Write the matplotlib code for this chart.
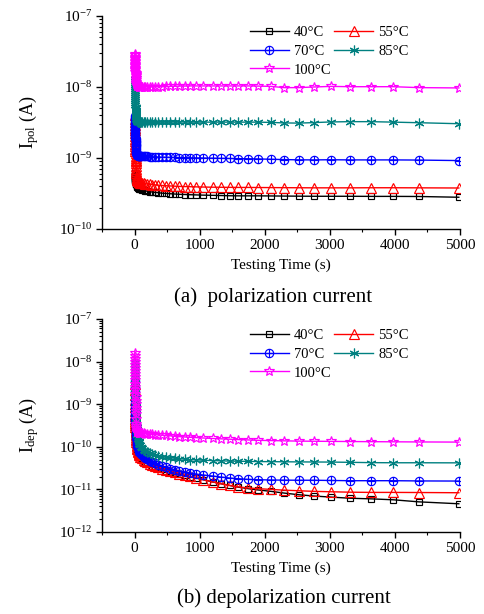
import numpy as np
import matplotlib
matplotlib.use("Agg")
import matplotlib.pyplot as plt
from matplotlib.path import Path
from matplotlib.ticker import MultipleLocator, LogLocator, LogFormatterMathtext, NullFormatter

plt.rcParams['font.family'] = ['Liberation Serif', 'DejaVu Serif']
plt.rcParams['mathtext.fontset'] = 'custom'
plt.rcParams['mathtext.rm'] = 'Liberation Serif'
plt.rcParams['mathtext.it'] = 'Liberation Serif:italic'

# ---- data -------------------------------------------------------------
time_s = np.array([1, 2, 3, 4, 5, 6, 7, 8, 9, 10,
                   11, 12, 13, 14, 15, 16, 17, 18, 19, 20,
                   22, 24, 26, 28, 31, 34, 37, 41, 45, 50,
                   55, 61, 68, 76, 85, 100, 118, 140, 165, 195,
                   230, 270, 315, 365, 420, 480, 545, 615, 690, 770,
                   855, 950, 1050, 1198, 1326, 1459, 1592, 1746, 1900, 2094,
                   2299, 2519, 2750, 3016, 3313, 3630, 3978, 4368, 4982])

temps = ['40°C', '55°C', '70°C', '85°C', '100°C']

# polarization current (A)
pol_40 = np.array([6.2, 6.0, 5.82, 5.66, 5.52, 5.4, 5.29, 5.19, 5.1, 5.02,
                   4.95, 4.88, 4.82, 4.76, 4.7, 4.65, 4.6, 4.56, 4.52, 4.48,
                   4.41, 4.35, 4.29, 4.24, 4.17, 4.11, 4.06, 4.0, 3.95, 3.89,
                   3.84, 3.79, 3.74, 3.69, 3.65, 3.62, 3.56, 3.5, 3.45, 3.4,
                   3.36, 3.32, 3.28, 3.24, 3.2, 3.17, 3.14, 3.11, 3.08, 3.06,
                   3.04, 3.02, 3.0, 2.98, 2.96, 2.94, 2.93, 2.93, 2.93, 2.92,
                   2.91, 2.9, 2.89, 2.89, 2.89, 2.88, 2.88, 2.87, 2.8]) * 1e-10
pol_55 = np.array([40, 36, 32.5, 29.5, 26.8, 24.4, 22.2, 20.3, 18.6, 17.1,
                   15.8, 14.6, 13.5, 12.5, 11.6, 10.8, 10.1, 9.5, 8.95, 8.45,
                   7.65, 7.0, 6.5, 6.1, 5.7, 5.4, 5.2, 5.03, 4.9, 4.8,
                   4.72, 4.65, 4.6, 4.55, 4.51, 4.47, 4.42, 4.38, 4.34, 4.3,
                   4.26, 4.22, 4.18, 4.14, 4.1, 4.07, 4.04, 4.01, 3.98, 3.96,
                   3.94, 3.92, 3.9, 3.88, 3.87, 3.86, 3.85, 3.85, 3.84, 3.83,
                   3.82, 3.81, 3.8, 3.8, 3.8, 3.81, 3.81, 3.8, 3.78]) * 1e-10
pol_70 = np.array([3.9, 3.7, 3.5, 3.3, 3.12, 2.95, 2.79, 2.64, 2.5, 2.37,
                   2.25, 2.13, 2.02, 1.92, 1.83, 1.74, 1.66, 1.59, 1.52, 1.46,
                   1.37, 1.29, 1.23, 1.19, 1.15, 1.12, 1.105, 1.095, 1.09, 1.085,
                   1.082, 1.079, 1.076, 1.073, 1.071, 1.07, 1.065, 1.06, 1.055, 1.05,
                   1.045, 1.04, 1.035, 1.03, 1.027, 1.024, 1.02, 1.017, 1.014, 1.01,
                   1.006, 1.003, 1.0, 0.995, 0.99, 0.985, 0.98, 0.975, 0.97, 0.96,
                   0.95, 0.942, 0.94, 0.945, 0.94, 0.94, 0.94, 0.935, 0.92]) * 1e-9
pol_85 = np.array([13, 12.2, 11.4, 10.7, 10.0, 9.4, 8.8, 8.2, 7.7, 7.2,
                   6.75, 6.35, 5.95, 5.6, 5.3, 5.0, 4.75, 4.52, 4.32, 4.15,
                   3.9, 3.72, 3.6, 3.5, 3.42, 3.36, 3.32, 3.29, 3.27, 3.25,
                   3.24, 3.23, 3.22, 3.22, 3.21, 3.21, 3.2, 3.2, 3.2, 3.2,
                   3.2, 3.2, 3.2, 3.2, 3.2, 3.2, 3.2, 3.21, 3.21, 3.21,
                   3.2, 3.2, 3.2, 3.2, 3.2, 3.2, 3.2, 3.2, 3.2, 3.17,
                   3.12, 3.1, 3.15, 3.22, 3.25, 3.25, 3.2, 3.14, 3.04]) * 1e-9
pol_100 = np.array([2.9, 2.78, 2.66, 2.55, 2.44, 2.34, 2.24, 2.14, 2.05, 1.96,
                    1.88, 1.8, 1.72, 1.65, 1.58, 1.52, 1.46, 1.41, 1.36, 1.32,
                    1.25, 1.19, 1.15, 1.12, 1.09, 1.07, 1.055, 1.045, 1.035, 1.03,
                    1.025, 1.02, 1.015, 1.012, 1.01, 1.01, 1.01, 1.01, 1.01, 1.01,
                    1.01, 1.01, 1.01, 1.01, 1.015, 1.02, 1.02, 1.025, 1.03, 1.03,
                    1.035, 1.035, 1.035, 1.035, 1.035, 1.035, 1.035, 1.035, 1.03, 1.02,
                    0.98, 0.98, 1.0, 1.02, 1.01, 1.01, 1.01, 0.98, 0.97]) * 1e-8

# depolarization current (A)
dep_40 = np.array([320, 225, 168, 131, 105, 86, 72, 61, 52.5, 46,
                   40.8, 36.5, 32.9, 29.9, 27.3, 25.1, 23.2, 21.6, 20.2, 19.0,
                   17.0, 15.4, 14.1, 13.0, 11.8, 10.8, 10.0, 9.2, 8.6, 7.95,
                   7.45, 6.95, 6.5, 6.1, 5.8, 5.55, 5.15, 4.8, 4.45, 4.15,
                   3.87, 3.6, 3.37, 3.15, 2.95, 2.77, 2.6, 2.44, 2.28, 2.12,
                   1.98, 1.84, 1.7, 1.5, 1.36, 1.24, 1.13, 1.04, 0.97, 0.9,
                   0.82, 0.75, 0.7, 0.66, 0.62, 0.6, 0.57, 0.51, 0.46]) * 1e-11
dep_55 = np.array([300, 215, 162, 127, 102, 84, 70, 60, 52, 45.5,
                   40.5, 36.3, 32.8, 29.8, 27.3, 25.2, 23.4, 21.8, 20.4, 19.2,
                   17.2, 15.6, 14.3, 13.2, 12.0, 11.0, 10.2, 9.4, 8.8, 8.1,
                   7.6, 7.1, 6.65, 6.25, 5.9, 5.75, 5.35, 5.0, 4.65, 4.32,
                   4.02, 3.74, 3.5, 3.27, 3.06, 2.87, 2.69, 2.52, 2.35, 2.18,
                   2.02, 1.86, 1.7, 1.5, 1.36, 1.24, 1.15, 1.08, 1.04, 1.0,
                   0.96, 0.93, 0.9, 0.88, 0.86, 0.85, 0.85, 0.845, 0.835]) * 1e-11
dep_70 = np.array([350, 260, 200, 158, 128, 106, 89, 76, 66, 58,
                   51.5, 46, 41.5, 37.8, 34.6, 31.9, 29.6, 27.6, 25.8, 24.2,
                   21.6, 19.5, 17.8, 16.4, 14.8, 13.5, 12.5, 11.4, 10.6, 9.8,
                   9.2, 8.6, 8.0, 7.5, 7.1, 6.7, 6.25, 5.85, 5.45, 5.05,
                   4.7, 4.38, 4.08, 3.8, 3.54, 3.3, 3.08, 2.88, 2.7, 2.54,
                   2.4, 2.28, 2.18, 2.06, 1.95, 1.85, 1.78, 1.72, 1.69, 1.66,
                   1.65, 1.64, 1.64, 1.62, 1.6, 1.6, 1.6, 1.58, 1.57]) * 1e-11
dep_85 = np.array([1000, 850, 720, 610, 515, 435, 368, 312, 265, 226,
                   194, 167, 145, 127, 112, 99, 88, 79, 71, 64,
                   53, 45, 39, 34.5, 29.5, 26, 23.2, 20.5, 18.5, 16.6,
                   15.2, 13.9, 12.7, 11.7, 10.8, 10, 9.2, 8.5, 7.9, 7.4,
                   7.0, 6.6, 6.3, 6.05, 5.85, 5.7, 5.55, 5.4, 5.25, 5.12,
                   5.0, 4.92, 4.85, 4.75, 4.68, 4.62, 4.58, 4.54, 4.5, 4.48,
                   4.45, 4.42, 4.4, 4.38, 4.32, 4.25, 4.22, 4.22, 4.2]) * 1e-11
dep_100 = np.array([1600, 1380, 1180, 1000, 850, 720, 610, 515, 435, 365,
                    305, 255, 212, 176, 146, 121, 100, 83, 69, 58,
                    44, 35, 30, 27, 25, 23.8, 23, 22.5, 22.2, 21.9,
                    21.7, 21.5, 21.4, 21.3, 21.1, 21, 20.8, 20.6, 20.4, 20.2,
                    20, 19.7, 19.4, 19.1, 18.8, 18.5, 18.1, 17.7, 17.3, 17,
                    16.7, 16.4, 16.1, 15.7, 15.4, 15.1, 14.8, 14.5, 14.2, 14,
                    13.8, 13.6, 13.5, 13.4, 13.3, 13.2, 13.1, 13, 12.9]) * 1e-11

# ---- styling ----------------------------------------------------------
# circle with a cross inside (⊕)
_circle = Path.unit_circle()
_cross = Path([(-1, 0), (1, 0), (0, -1), (0, 1)],
              [Path.MOVETO, Path.LINETO, Path.MOVETO, Path.LINETO])
oplus = Path.make_compound_path(_circle, _cross)

styles = [
    dict(color='black', marker='s', ms=5),
    dict(color='#ff0000', marker='^', ms=6.5),
    dict(color='#0000ff', marker=oplus, ms=6),
    dict(color='#008080', marker=(6, 2, 0), ms=7),
    dict(color='#ff00ff', marker='*', ms=7.5),
]

fig = plt.figure(figsize=(4.85, 6.14), dpi=100)
ax_top = fig.add_axes([102 / 485, 1 - 229 / 614, 358 / 485, 213 / 614])
ax_bot = fig.add_axes([102 / 485, 1 - 532 / 614, 358 / 485, 213 / 614])


def draw_panel(ax, series, ylim, ylabel):
    lines = []
    for vals, st, lab in zip(series, styles, temps):
        ln, = ax.plot(time_s, vals, color=st['color'], lw=1.0,
                      marker=st['marker'], ms=st['ms'], mfc='none',
                      mec=st['color'], mew=0.85, label=lab)
        lines.append(ln)
    ax.set_yscale('log')
    ax.set_xlim(-500, 5000)
    ax.set_ylim(*ylim)
    ax.xaxis.set_major_locator(MultipleLocator(1000))
    ax.xaxis.set_minor_locator(MultipleLocator(500))
    ax.yaxis.set_major_locator(LogLocator(base=10, numticks=20))
    ax.yaxis.set_minor_locator(LogLocator(base=10, subs=np.arange(2, 10), numticks=20))
    ax.yaxis.set_major_formatter(LogFormatterMathtext())
    ax.yaxis.set_minor_formatter(NullFormatter())
    for side in ('top', 'right'):
        ax.spines[side].set_visible(False)
    for side in ('left', 'bottom'):
        ax.spines[side].set_linewidth(1.0)
    ax.tick_params(which='major', direction='out', length=4, width=1.0,
                   labelsize=11, pad=3)
    ax.tick_params(which='minor', direction='out', length=2, width=0.8)
    ax.set_xlabel('Testing Time (s)', fontsize=11, labelpad=5)
    ax.set_ylabel(ylabel, fontsize=13)
    ax.yaxis.set_label_coords(-0.17, 0.5)

    order = [0, 2, 4, 1, 3]
    ax.legend([lines[i] for i in order], [temps[i] for i in order],
              ncol=2, frameon=False, fontsize=10.5, handlelength=2.7,
              handletextpad=0.35, columnspacing=0.15, labelspacing=0.38,
              loc='upper left', bbox_to_anchor=(0.396, 0.981), borderaxespad=0.0)


draw_panel(ax_top, [pol_40, pol_55, pol_70, pol_85, pol_100], (1e-10, 1e-7),
           r'$\mathregular{I_{pol}}$ (A)')
draw_panel(ax_bot, [dep_40, dep_55, dep_70, dep_85, dep_100], (1e-12, 1e-7),
           r'$\mathregular{I_{dep}}$ (A)')

fig.text(273 / 485, 1 - 297 / 614, '(a)  polarization current',
         ha='center', va='center', fontsize=15)
fig.text(284 / 485, 1 - 598 / 614, '(b) depolarization current',
         ha='center', va='center', fontsize=15)

fig.savefig('out.png', dpi=100)
